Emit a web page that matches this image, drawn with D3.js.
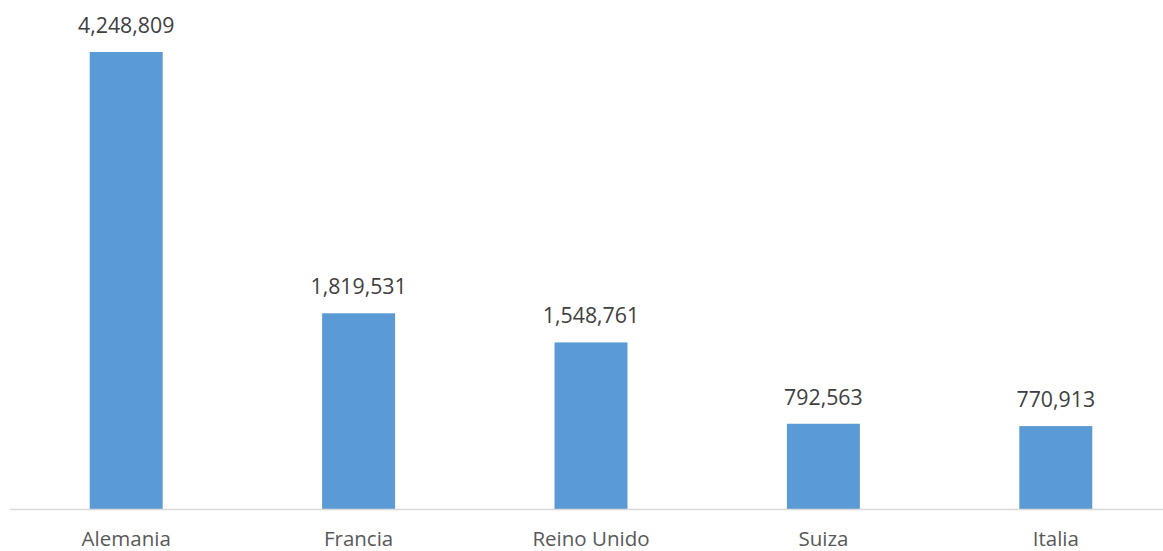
<!DOCTYPE html>
<html><head><meta charset="utf-8">
<script src="https://cdn.jsdelivr.net/npm/d3@7"></script>
<style>body{margin:0;background:#fff}svg{display:block}</style>
</head><body>
<svg id="c" width="1163" height="551"></svg>
<script>
const categories = ["Alemania","Francia","Reino Unido","Suiza","Italia"];
const values = [4248809,1819531,1548761,792563,770913];

const svg = d3.select("#c");
const W = 1163, H = 551;
const baseY = 509;
const x = d3.scaleBand().domain(categories).range([10, 1172]).paddingInner(0.686).paddingOuter(0.343);
const y = d3.scaleLinear().domain([0, 4500000]).range([baseY, 25]);
const fmt = d3.format(",");
const font = "'Open Sans', sans-serif";

svg.selectAll("rect.bar").data(values).enter().append("rect")
  .attr("class","bar")
  .attr("x",(d,i)=>x(categories[i]))
  .attr("width",x.bandwidth())
  .attr("y",d=>y(d))
  .attr("height",d=>baseY-y(d))
  .attr("fill","#5B9BD5");

svg.append("line").attr("x1",10).attr("x2",W).attr("y1",baseY+0.5).attr("y2",baseY+0.5)
  .attr("stroke","#D9D9D9").attr("stroke-width",1.5);

svg.selectAll("text.val").data(values).enter().append("text")
  .attr("class","val")
  .attr("x",(d,i)=>x(categories[i])+x.bandwidth()/2)
  .attr("y",d=>y(d)-19)
  .attr("text-anchor","middle")
  .attr("font-family",font).attr("font-size",21.3).attr("fill","#404040")
  .text(d=>fmt(d));

svg.selectAll("text.cat").data(categories).enter().append("text")
  .attr("class","cat")
  .attr("x",d=>x(d)+x.bandwidth()/2)
  .attr("y",546)
  .attr("text-anchor","middle")
  .attr("font-family",font).attr("font-size",20.5).attr("fill","#595959")
  .text(d=>d);
</script>
</body></html>
